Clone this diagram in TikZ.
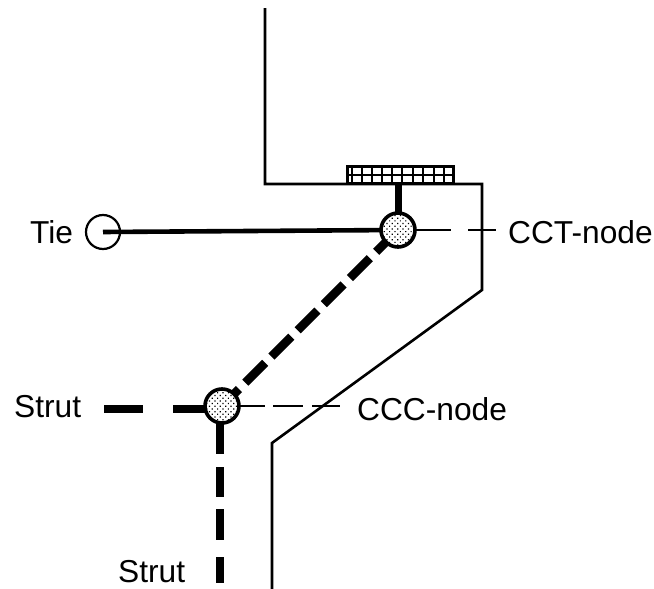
\documentclass[tikz,border=0pt]{standalone}
\usepackage{fontspec}
\setmainfont{Liberation Sans}
\usetikzlibrary{patterns,patterns.meta,backgrounds}
\tikzset{
  x=1pt,y=-1pt,
  outline/.style={line width=2.6pt,line join=miter},
  plateline/.style={line width=2.3pt},
  hinge/.style={circle,draw,line width=3.6pt,minimum size=34pt,inner sep=0pt,preaction={fill=white},pattern={Dots[radius=0.85pt,distance=3.8pt,angle=45]}},
  tieline/.style={line width=4.6pt},
  strutline/.style={line width=8.6pt},
  leader/.style={line width=2.2pt},
  lab/.style={inner sep=0pt,anchor=base west,font=\fontsize{31.7}{32}\selectfont},
}
\begin{document}
\begin{tikzpicture}
\useasboundingbox (0,0) rectangle (654,589);
% nodes
\node[hinge] (cct) at (398,230) {};
\node[hinge] (ccc) at (222,406) {};
\node[circle,draw,line width=2.2pt,minimum size=34pt,inner sep=0pt] (tiec) at (103,232) {};
\node[draw,line width=2.3pt,minimum width=106pt,minimum height=17pt,inner sep=0pt,outer sep=0pt] (plate) at (400.5,175) {};
\node[lab] (tie) at (30,243) {Tie};
\node[lab] (cctl) at (508,243) {CCT-node};
\node[lab] (cccl) at (357,420) {CCC-node};
\node[lab] (s1) at (14,417) {Strut};
\node[lab] (s2) at (118,582) {Strut};
\coordinate (ct) at (496,230);
\coordinate (cc) at (340,406);
\coordinate (sl) at (104,409);
\coordinate (sb) at (220,583);
% wall outline
\draw[outline] (265,8) -- (265,184) -- (482,184) -- (482,290) -- (272,443) -- (272,589);
% plate grid
\draw[plateline] (plate.west) -- (plate.east);
\foreach \gx in {351.7,361.7,371.7,381.7,391.7,401.7,413,423,434,444.3}
  \draw[plateline] (\gx,166) -- (\gx,184);
\begin{scope}[on background layer]
  \draw[tieline] (tiec.center) -- (cct.center);
  \draw[line width=7pt] (cct.center) -- (cct.center |- plate.south);
  \draw[leader,dash pattern=on 53pt off 17pt on 28pt off 100pt] (cct.center) -- (ct);
  \draw[leader,dash pattern=on 43pt off 8pt on 30pt off 9pt on 28pt off 100pt] (ccc.center) -- (cc);
  \draw[strutline,dash pattern=on 28pt off 9pt,dash phase=4pt] (ccc.center) -- (cct.center);
  \draw[strutline,dash pattern=on 39pt off 30pt on 100pt off 10pt] (sl) -- ([yshift=-3pt]ccc.center);
  \draw[strutline,dash pattern=on 48pt off 13pt on 30pt off 12pt on 31pt off 17pt on 26pt off 100pt] ([xshift=-2pt]ccc.center) -- (sb);
\end{scope}
\end{tikzpicture}
\end{document}
